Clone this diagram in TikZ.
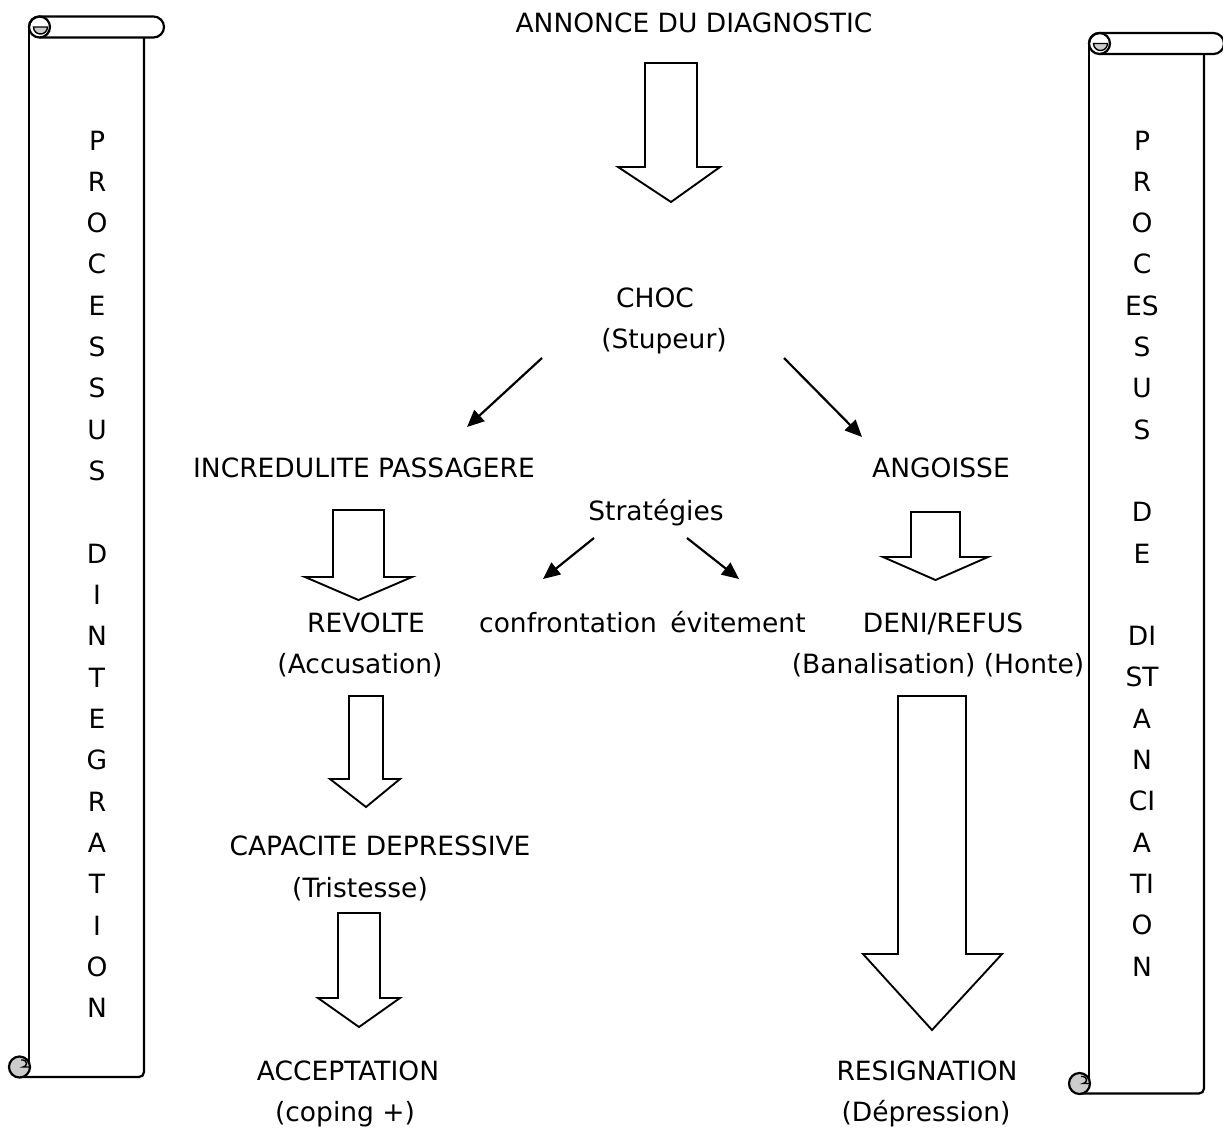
\documentclass[tikz,border=0pt]{standalone}
\usepackage{fontspec}
\setmainfont{DejaVu Sans}
\usetikzlibrary{arrows.meta}
\begin{document}
\begin{tikzpicture}[x=1pt,y=1pt,
  lbl/.style={anchor=base, inner sep=0pt, font=\fontsize{26.5}{31}\selectfont},
  blk/.style={draw, line width=1.9pt, fill=white, line join=miter},
  thinarrow/.style={line width=2.2pt, -{Triangle[length=17pt,width=15pt]}},
  scr/.style={line width=2.2pt},
  scrollpic/.pic={
    \draw[scr] (29,-27) -- (29,-1064);
    \draw[scr, rounded corners=5] (144,-37) -- (144,-1077) -- (19.5,-1077);
    \draw[scr] (29,-27) arc(180:90:10.5) -- (153.5,-16.5) arc(90:-90:10.5) -- (39.5,-37.5);
    \draw[scr] (39.5,-27) circle (10.5);
    \filldraw[line width=1.4pt, fill=gray!40] (33.5,-27) -- (47.5,-27) arc(0:-180:7) -- cycle;
    \filldraw[scr, fill=gray!40] (19.5,-1067) circle (10.5);
    \draw[line width=1.4pt] (21,-1060) -- (23,-1060) arc(90:-90:3.5) -- (29,-1067);
  }]
\useasboundingbox (0,0) rectangle (1223,-1128);
\fill[white] (0,0) rectangle (1223,-1128);

% scrolls
\pic at (0,0) {scrollpic};
\pic at (1060,-16.5) {scrollpic};

\foreach \t/\k [count=\i] in {P/0,R/1,O/2,C/3,E/4,S/5,S/6,U/7,S/8,D/10,I/11,N/12,T/13,E/14,G/15,R/16,A/17,T/18,I/19,O/20,N/21}
  \node[lbl] (lt\i) at (97,{-(150+41.33*\k)}) {\t};
\foreach \t/\k [count=\i] in {P/0,R/1,O/2,C/3,ES/4,S/5,U/6,S/7,D/9,E/10,DI/12,ST/13,A/14,N/15,CI/16,A/17,TI/18,O/19,N/20}
  \node[lbl] (rt\i) at (1142,{-(150+41.3*\k)}) {\t};

% text nodes
\node[lbl] (ann) at (694,-32) {ANNONCE DU DIAGNOSTIC};
\node[lbl] (choc) at (655,-307) {CHOC};
\node[lbl] (stup) at (664,-348) {(Stupeur)};
\node[lbl] (incr) at (364,-477) {INCREDULITE PASSAGERE};
\node[lbl] (ang) at (941,-477) {ANGOISSE};
\node[lbl] (strat) at (656,-520) {Stratégies};
\node[lbl] (rev) at (366,-632) {REVOLTE};
\node[lbl] (acc) at (360,-673) {(Accusation)};
\node[lbl] (conf) at (568,-632) {confrontation};
\node[lbl] (evit) at (738,-632) {évitement};
\node[lbl] (deni) at (943,-632) {DENI/REFUS};
\node[lbl] (banal) at (938,-673) {(Banalisation) (Honte)};
\node[lbl] (capa) at (380,-855) {CAPACITE DEPRESSIVE};
\node[lbl] (trist) at (360,-897) {(Tristesse)};
\node[lbl] (accept) at (348,-1080) {ACCEPTATION};
\node[lbl] (coping) at (345,-1121) {(coping +)};
\node[lbl] (resig) at (927,-1080) {RESIGNATION};
\node[lbl] (depr) at (926,-1121) {(Dépression)};

% block arrows: L R top base HL HR tipx tipy
\newcommand\blockarrow[8]{%
  \draw[blk] (#1,-#3) -- (#1,-#4) -- (#5,-#4) -- (#7,-#8) -- (#6,-#4) -- (#2,-#4) -- (#2,-#3) -- cycle;}
\blockarrow{645}{697}{63}{167}{618}{720}{671}{202}
\blockarrow{333}{384}{510}{577}{305}{412}{358.5}{600}
\blockarrow{349}{383}{696}{779}{330}{400}{366}{807}
\blockarrow{338}{380}{913}{998}{318}{400}{359}{1027}
\blockarrow{911}{960}{512}{557}{883}{988}{935.5}{580}
\blockarrow{898}{966}{696}{954}{863}{1002}{932}{1030}

% thin arrows
\coordinate (c1s) at (542,-358); \coordinate (c1e) at (467,-427);
\coordinate (c2s) at (784,-358); \coordinate (c2e) at (862,-437);
\coordinate (c3s) at (594,-538); \coordinate (c3e) at (543,-579);
\coordinate (c4s) at (687,-538); \coordinate (c4e) at (739,-579);
\draw[thinarrow] (c1s) -- (c1e);
\draw[thinarrow] (c2s) -- (c2e);
\draw[thinarrow] (c3s) -- (c3e);
\draw[thinarrow] (c4s) -- (c4e);
\end{tikzpicture}
\end{document}
